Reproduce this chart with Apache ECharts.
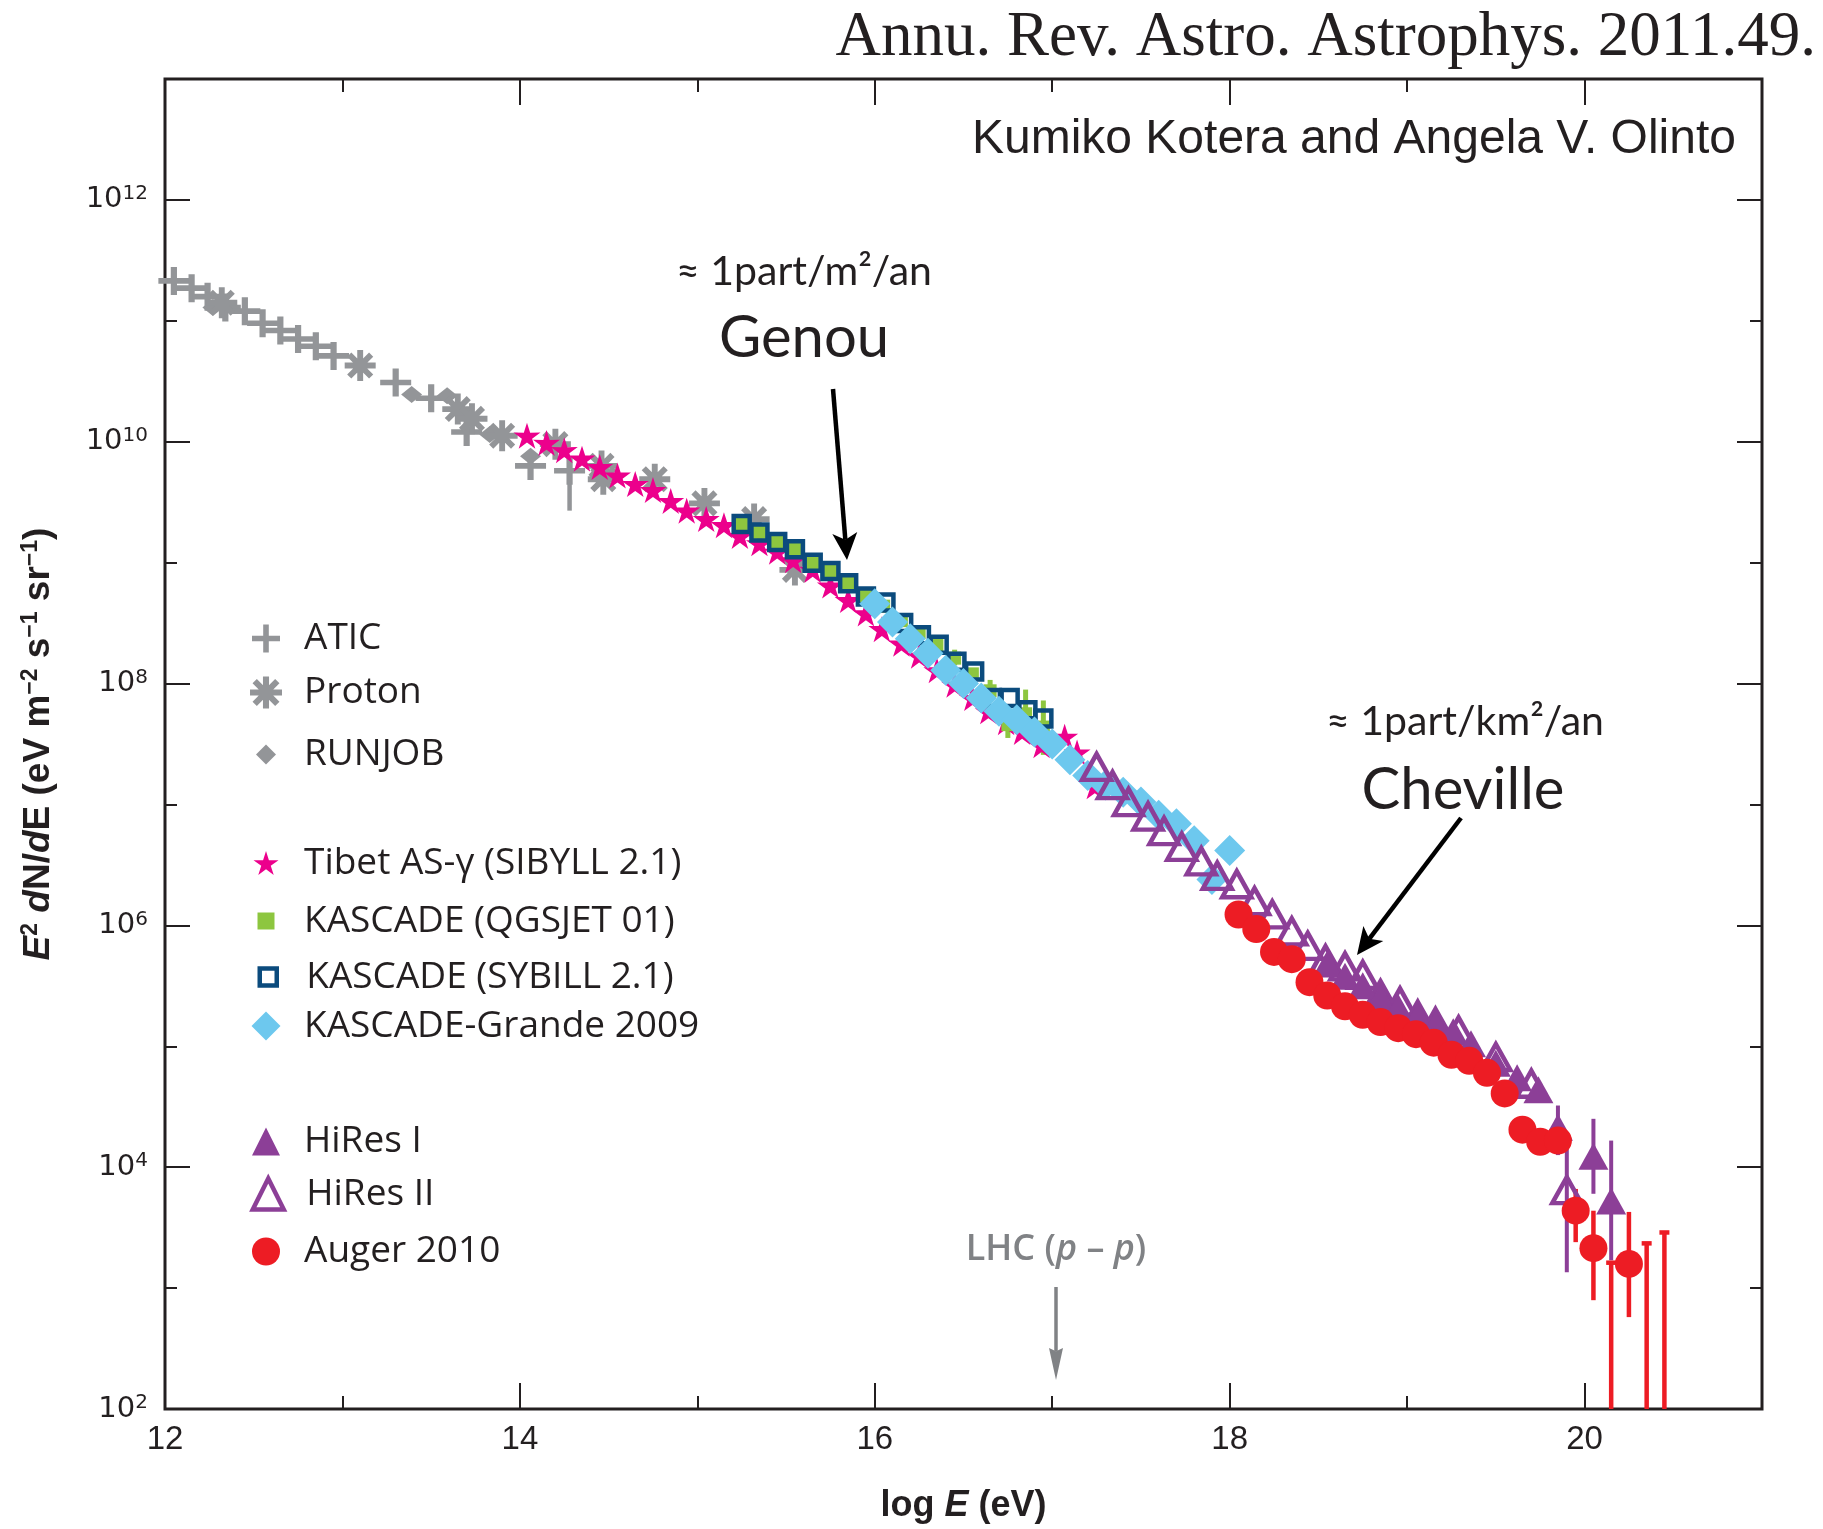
<!DOCTYPE html>
<html>
<head>
<meta charset="utf-8">
<script src="https://cdn.jsdelivr.net/npm/echarts@6/dist/echarts.min.js"></script>
<style>
  html, body { margin: 0; padding: 0; background: #ffffff; }
  #chart { width: 1823px; height: 1529px; }
</style>
</head>
<body>
<div id="chart"></div>
<script>
// Cosmic-ray spectrum: x = log10(E / eV), y = log10(E^2 dN/dE / (eV m^-2 s^-1 sr^-1))

const atic = [[12.05,11.33],[12.15,11.27],[12.24,11.20],[12.34,11.11],[12.45,11.08],[12.55,10.98],[12.65,10.92],[12.75,10.85],[12.85,10.79],[12.95,10.71],[13.30,10.49],[13.50,10.36],[13.70,10.08],[14.06,9.80],[14.28,9.76]];
const aticErr = [[14.28,9.43,9.83]];
const proton = [[12.32,11.15],[13.10,10.63],[13.65,10.27],[13.73,10.19],[13.90,10.05],[14.20,9.98],[14.46,9.80],[14.47,9.69],[14.76,9.69],[15.04,9.49],[15.32,9.36],[15.55,8.94]];
const runjob = [[12.27,11.11],[13.39,10.39],[13.59,10.38],[13.83,10.06],[14.06,9.88]];
const tibet = [[14.04,10.05],[14.15,9.99],[14.25,9.93],[14.35,9.86],[14.45,9.79],[14.55,9.72],[14.65,9.65],[14.75,9.60],[14.85,9.51],[14.94,9.43],[15.05,9.36],[15.15,9.31],[15.24,9.22],[15.35,9.16],[15.45,9.09],[15.54,9.02],[15.65,8.94],[15.75,8.81],[15.85,8.69],[15.95,8.58],[16.04,8.45],[16.15,8.33],[16.25,8.23],[16.35,8.11],[16.45,7.99],[16.55,7.88],[16.64,7.77],[16.74,7.68],[16.83,7.60],[16.94,7.49],[17.07,7.56],[17.14,7.43],[17.24,7.15]];
const kascadeQgsjet = [[15.25,9.32],[15.35,9.25],[15.45,9.17],[15.55,9.11],[15.65,9.00],[15.75,8.93],[15.85,8.83],[15.95,8.72],[16.05,8.64],[16.15,8.52],[16.25,8.42],[16.35,8.32],[16.45,8.21],[16.55,8.08],[16.65,7.94],[16.75,7.66],[16.85,7.75],[16.95,7.64]];
const kascadeQgsjetErr = [[16.45,8.15,8.28],[16.65,7.85,8.03],[16.75,7.55,7.77],[16.85,7.55,7.95],[16.95,7.41,7.86]];
const kascadeSibyll = [[15.25,9.32],[15.35,9.25],[15.45,9.17],[15.55,9.11],[15.65,9.00],[15.75,8.93],[15.85,8.83],[15.95,8.72],[16.06,8.67],[16.16,8.50],[16.26,8.40],[16.36,8.32],[16.46,8.18],[16.56,8.10],[16.66,7.88],[16.76,7.88],[16.86,7.78],[16.95,7.71]];
const kascadeGrande = [[16.00,8.66],[16.10,8.51],[16.20,8.37],[16.30,8.25],[16.40,8.11],[16.50,8.00],[16.60,7.88],[16.70,7.77],[16.80,7.70],[16.90,7.60],[17.00,7.50],[17.10,7.37],[17.20,7.24],[17.30,7.16],[17.40,7.10],[17.50,7.02],[17.60,6.91],[17.70,6.84],[17.80,6.70],[17.90,6.38],[18.00,6.62]];
const hires2 = [[17.25,7.31],[17.34,7.16],[17.43,7.02],[17.54,6.90],[17.63,6.78],[17.73,6.65],[17.84,6.53],[17.93,6.41],[18.04,6.34],[18.14,6.20],[18.24,6.09],[18.35,5.95],[18.44,5.83],[18.54,5.72],[18.65,5.66],[18.75,5.59],[18.85,5.43],[18.96,5.37],[19.06,5.26],[19.16,5.20],[19.29,5.13],[19.50,4.91],[19.70,4.69],[19.90,3.81]];
const hires1 = [[18.55,5.68],[18.65,5.58],[18.75,5.50],[18.85,5.40],[18.95,5.32],[19.06,5.25],[19.16,5.18],[19.26,5.12],[19.36,5.02],[19.50,4.86],[19.62,4.74],[19.74,4.64],[19.85,4.33],[20.05,4.09],[20.15,3.72]];
const hiresErr = [[19.85,4.10,4.51],[19.90,3.13,4.22],[20.05,3.78,4.40],[20.15,3.23,4.22]];
const auger = [[18.05,6.09],[18.15,5.97],[18.25,5.78],[18.35,5.72],[18.45,5.53],[18.55,5.42],[18.65,5.33],[18.75,5.26],[18.85,5.20],[18.95,5.15],[19.05,5.10],[19.15,5.03],[19.25,4.93],[19.35,4.88],[19.45,4.78],[19.55,4.61],[19.65,4.31],[19.75,4.21],[19.85,4.22],[19.95,3.64],[20.05,3.33],[20.25,3.20]];
const augerErr = [[19.95,3.38,3.82],[20.05,2.90,3.64],[20.25,2.76,3.63]];
const augerUpperLimits = [[20.15,3.21],[20.35,3.37],[20.45,3.46]];

const X_MIN = 12, X_MAX = 21, Y_MIN = 2, Y_MAX = 13;

const INK = '#231f20';
const GREY = '#939598';
const MAGENTA = '#ec008c';
const GREEN = '#8dc63f';
const NAVY = '#0b4b7d';
const SKY = '#6dc8ee';
const PURPLE = '#8c3f97';
const RED = '#ed1c24';
const SANS = "'Liberation Sans', Arial, sans-serif";
const HUMANIST = "Lato, 'Open Sans', sans-serif";

// marker shapes
const PLUS = 'path://M40,0H60V40H100V60H60V100H40V60H0V40H40Z';
function asteriskPath() {
  let d = '';
  [0, 45, 90, 135].forEach(function (deg) {
    const r = deg * Math.PI / 180, c = Math.cos(r), s = Math.sin(r);
    const pts = [[-50, -9.5], [50, -9.5], [50, 9.5], [-50, 9.5]].map(function (p) {
      return (50 + p[0] * c - p[1] * s).toFixed(2) + ',' + (50 + p[0] * s + p[1] * c).toFixed(2);
    });
    d += 'M' + pts.join('L') + 'Z';
  });
  return 'path://' + d;
}
function starPath() {
  const pts = [];
  for (let i = 0; i < 10; i++) {
    const rad = i % 2 ? 19 : 50;
    const a = -Math.PI / 2 + i * Math.PI / 5;
    pts.push((50 + rad * Math.cos(a)).toFixed(2) + ',' + (50 + rad * Math.sin(a)).toFixed(2));
  }
  return 'path://M' + pts.join('L') + 'Z';
}
const ASTERISK = asteriskPath();
const STAR = starPath();

function scatter(name, data, symbol, size, itemStyle) {
  return {
    type: 'scatter', name: name, data: data, symbol: symbol, symbolSize: size,
    itemStyle: Object.assign({ opacity: 1 }, itemStyle),
    silent: true, emphasis: { disabled: true }, animation: false
  };
}

// vertical error bars: rows are [x, low, high]
function errorBars(name, rows, color, width, capHalf) {
  return {
    type: 'custom', name: name, data: rows, silent: true, animation: false,
    encode: { x: 0, y: [1, 2] },
    renderItem: function (params, api) {
      const x = api.value(0);
      const hi = api.coord([x, api.value(2)]);
      const lo = api.coord([x, api.value(1)]);
      const children = [{
        type: 'line', shape: { x1: hi[0], y1: hi[1], x2: lo[0], y2: lo[1] },
        style: { stroke: color, lineWidth: width }
      }];
      if (capHalf) {
        children.push({
          type: 'line', shape: { x1: hi[0] - capHalf, y1: hi[1], x2: hi[0] + capHalf, y2: hi[1] },
          style: { stroke: color, lineWidth: width }
        });
      }
      return { type: 'group', children: children };
    }
  };
}

const series = [
  scatter('ATIC', atic, PLUS, [31, 28], { color: GREY }),
  errorBars('ATIC bars', aticErr, GREY, 4.5, 0),
  scatter('RUNJOB', runjob, 'diamond', [21, 17], { color: GREY }),
  scatter('Proton', proton, ASTERISK, 31, { color: GREY }),
  scatter('Tibet AS-γ (SIBYLL 2.1)', tibet, STAR, [27, 26], { color: MAGENTA }),
  errorBars('QGSJET bars', kascadeQgsjetErr, GREEN, 5, 0),
  scatter('KASCADE (QGSJET 01)', kascadeQgsjet, 'rect', 13, { color: GREEN }),
  scatter('KASCADE (SYBILL 2.1)', kascadeSibyll, 'rect', 16,
    { color: 'rgba(255,255,255,0)', borderColor: NAVY, borderWidth: 4.5 }),
  scatter('KASCADE-Grande 2009', kascadeGrande, 'diamond', 31, { color: SKY }),
  errorBars('HiRes bars', hiresErr, PURPLE, 4, 0),
  scatter('HiRes II', hires2, 'triangle', [29, 26],
    { color: 'rgba(255,255,255,0)', borderColor: PURPLE, borderWidth: 4.5 }),
  scatter('HiRes I', hires1, 'triangle', [30, 27], { color: PURPLE }),
  errorBars('Auger bars', augerErr, RED, 4.5, 0),
  errorBars('Auger limits', augerUpperLimits.map(function (r) { return [r[0], Y_MIN, r[1]]; }), RED, 4.5, 5),
  scatter('Auger 2010', auger, 'circle', 28, { color: RED })
];

// legend layout: one block per entry so each icon keeps its own size
const LEGEND_ICON_X = 266, LEGEND_TEXT_X = 304;
const legendRows = [
  { name: 'ATIC', y: 634, h: 28 },
  { name: 'Proton', y: 690, h: 32 },
  { name: 'RUNJOB', y: 746, h: 20 },
  { name: 'Tibet AS-γ (SIBYLL 2.1)', y: 857, h: 25 },
  { name: 'KASCADE (QGSJET 01)', y: 911, h: 17 },
  { name: 'KASCADE (SYBILL 2.1)', y: 967, h: 17, bw: 4.5 },
  { name: 'KASCADE-Grande 2009', y: 1022, h: 29 },
  { name: 'HiRes I', y: 1137, h: 28 },
  { name: 'HiRes II', y: 1191, h: 31, bw: 4.5 },
  { name: 'Auger 2010', y: 1247, h: 28 }
];
const legends = legendRows.map(function (r) {
  const gap = LEGEND_TEXT_X - (LEGEND_ICON_X + r.h / 2 + 5);
  const leg = {
    data: [r.name], orient: 'vertical', left: LEGEND_ICON_X - r.h / 2, top: r.y - r.h / 2,
    itemWidth: r.h, itemHeight: r.h, padding: 0, selectedMode: false,
    textStyle: { fontFamily: "'Open Sans', sans-serif", fontSize: 37, color: INK, padding: [0, 0, 0, gap] }
  };
  if (r.bw) leg.itemStyle = { borderWidth: r.bw };
  return leg;
});

function xAxisCfg(pos, step, len, labels) {
  return {
    type: 'value', position: pos, min: X_MIN, max: X_MAX, interval: step,
    axisLine: { show: false }, splitLine: { show: false },
    axisTick: { show: true, inside: true, length: len, lineStyle: { color: INK, width: 2 } },
    axisLabel: labels ? {
      show: true, margin: 14, color: INK, fontFamily: SANS, fontSize: 33,
      formatter: function (v) { return v < X_MAX ? String(v) : ''; }
    } : { show: false }
  };
}
function yAxisCfg(pos, step, len, labels) {
  return {
    type: 'value', position: pos, min: Y_MIN, max: Y_MAX, interval: step,
    axisLine: { show: false }, splitLine: { show: false },
    axisTick: { show: true, inside: true, length: len, lineStyle: { color: INK, width: 2 } },
    axisLabel: labels ? {
      show: true, margin: 17,
      formatter: function (v) { return (v % 2 === 0 && v < Y_MAX) ? '{b|10}{s|' + v + '}' : ''; },
      rich: {
        b: { fontFamily: "'DejaVu Sans', sans-serif", fontSize: 29, color: INK, lineHeight: 32 },
        s: { fontFamily: "'DejaVu Sans', sans-serif", fontSize: 20, color: INK, lineHeight: 20, verticalAlign: 'top' }
      }
    } : { show: false }
  };
}

const xAxes = [
  xAxisCfg('bottom', 2, 26, true),
  xAxisCfg('bottom', 1, 13, false),
  xAxisCfg('top', 2, 26, false),
  xAxisCfg('top', 1, 13, false)
];
Object.assign(xAxes[0], {
  name: '{n|log }{i|E}{n| (eV)}', nameLocation: 'middle', nameGap: 79,
  nameTextStyle: {
    rich: {
      n: { fontFamily: SANS, fontWeight: 'bold', fontSize: 36, color: INK },
      i: { fontFamily: SANS, fontWeight: 'bold', fontStyle: 'italic', fontSize: 36, color: INK }
    }
  }
});
const yAxes = [
  yAxisCfg('left', 2, 25, true),
  yAxisCfg('left', 1, 12, false),
  yAxisCfg('right', 2, 25, false),
  yAxisCfg('right', 1, 12, false)
];
Object.assign(yAxes[0], {
  name: '{i|E}{s|2}{n| }{i|d}{n|N/}{i|d}{n|E (eV m}{s|−2}{n| s}{s|−1}{n| sr}{s|−1}{n|)}',
  nameLocation: 'middle', nameRotate: 90, nameGap: 106,
  nameTextStyle: {
    rich: {
      n: { fontFamily: SANS, fontWeight: 'bold', fontSize: 37, color: INK, lineHeight: 40 },
      i: { fontFamily: SANS, fontWeight: 'bold', fontStyle: 'italic', fontSize: 37, color: INK, lineHeight: 40 },
      s: { fontFamily: SANS, fontWeight: 'bold', fontSize: 23, color: INK, lineHeight: 24, verticalAlign: 'top' }
    }
  }
});

// arrow made of a shaft and a notched head
function arrow(x1, y1, x2, y2, color, lw, hl, hw, notch) {
  const dx = x2 - x1, dy = y2 - y1, L = Math.hypot(dx, dy);
  const ux = dx / L, uy = dy / L, px = -uy, py = ux;
  const bx = x2 - ux * hl, by = y2 - uy * hl;
  const nx = x2 - ux * hl * (1 - notch), ny = y2 - uy * hl * (1 - notch);
  return [
    { type: 'line', shape: { x1: x1, y1: y1, x2: nx, y2: ny }, style: { stroke: color, lineWidth: lw }, z: 50 },
    { type: 'polygon', shape: { points: [[x2, y2], [bx + px * hw / 2, by + py * hw / 2], [nx, ny], [bx - px * hw / 2, by - py * hw / 2]] },
      style: { fill: color }, z: 50 }
  ];
}

function label(text, x, y, style) {
  return { type: 'text', x: x, y: y, z: 50, silent: true,
    style: Object.assign({ text: text, align: 'center', verticalAlign: 'middle', fill: INK }, style) };
}

const graphics = [
  label('Annu. Rev. Astro. Astrophys. 2011.49.', 1816, 38,
    { align: 'right', fontFamily: "'Liberation Serif', serif", fontSize: 63 }),
  label('Kumiko Kotera and Angela V. Olinto', 1736, 140,
    { align: 'right', fontFamily: SANS, fontSize: 48 }),
  label('≈ 1part/m²/an', 804, 272, { fontFamily: HUMANIST, fontSize: 41 }),
  label('Genou', 804, 338, { fontFamily: HUMANIST, fontSize: 58 }),
  label('≈ 1part/km²/an', 1465, 722, { fontFamily: HUMANIST, fontSize: 41 }),
  label('Cheville', 1463, 790, { fontFamily: HUMANIST, fontSize: 58 }),
  label('{n|LHC (}{i|p}{n| – }{i|p}{n|)}', 1056, 1250, {
    rich: {
      n: { fontFamily: "'Open Sans', sans-serif", fontWeight: 600, fontSize: 36, fill: '#808285' },
      i: { fontFamily: "'Open Sans', sans-serif", fontWeight: 600, fontStyle: 'italic', fontSize: 36, fill: '#808285' }
    }
  })
].concat(
  arrow(833, 389, 847, 560, '#000000', 4.5, 27, 25, 0.25),
  arrow(1461, 818, 1357, 955, '#000000', 4.5, 27, 25, 0.25),
  arrow(1056, 1287, 1056, 1380, '#808285', 3.5, 32, 14, 0.1)
);

const chart = echarts.init(document.getElementById('chart'), null, { renderer: 'canvas' });
chart.setOption({
  animation: false,
  backgroundColor: '#ffffff',
  grid: {
    left: 165, top: 79, width: 1597, height: 1333,
    show: true, borderColor: INK, borderWidth: 3, backgroundColor: 'rgba(0,0,0,0)'
  },
  xAxis: xAxes,
  yAxis: yAxes,
  legend: legends,
  series: series,
  graphic: { elements: graphics }
});
</script>
</body>
</html>
